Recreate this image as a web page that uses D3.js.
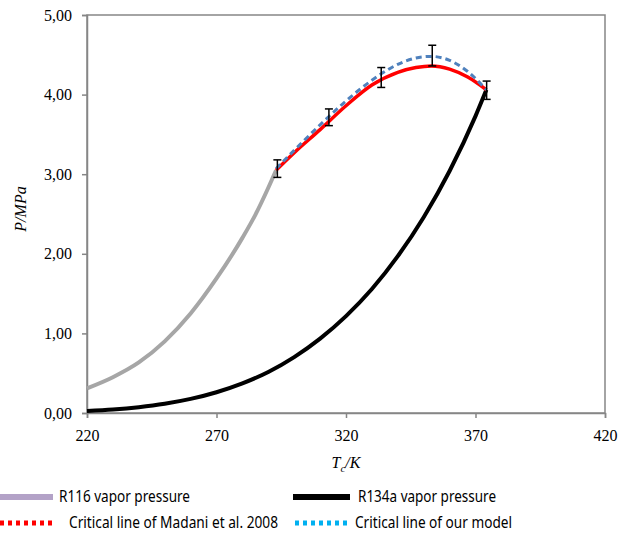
<!DOCTYPE html>
<html>
<head>
<meta charset="utf-8">
<script src="https://cdn.jsdelivr.net/npm/d3@7"></script>
<style>
  body { margin: 0; background: #fff; }
</style>
</head>
<body>
<div id="chart"></div>
<script>
// R116 vapor pressure
const r116T = [220, 230, 240, 250, 260, 270, 280, 285, 290, 293];
const r116P = [0.31, 0.45, 0.635, 0.90, 1.25, 1.69, 2.20, 2.49, 2.83, 3.05];

// R134a vapor pressure
const r134T = [220, 230, 240, 250, 260, 270, 280, 290, 300, 310, 320, 330, 340, 350, 360, 370, 374.2];
const r134P = [0.024, 0.043, 0.073, 0.116, 0.177, 0.261, 0.372, 0.515, 0.702, 0.934, 1.217, 1.557, 1.97, 2.46, 3.04, 3.73, 4.06];

// critical lines
const critT = [293, 300, 310, 320, 330, 340, 347, 353, 360, 367, 374.2];
const madaniP = [3.05, 3.27, 3.56, 3.86, 4.12, 4.28, 4.34, 4.36, 4.32, 4.22, 4.06];
const modelP = [3.07, 3.30, 3.62, 3.92, 4.18, 4.38, 4.46, 4.48, 4.43, 4.29, 4.06];

// experimental error bars
const errT = [293.5, 313.4, 333.6, 353.3, 374.3];
const errLo = [2.96, 3.61, 4.09, 4.36, 3.94];
const errHi = [3.18, 3.82, 4.34, 4.62, 4.17];

const xTicks = [220, 270, 320, 370, 420];
const yTicks = [0, 1, 2, 3, 4, 5];

const legendItems = [
  {label: "R116 vapor pressure", color: "#b3a2c7", dash: null},
  {label: "R134a vapor pressure", color: "#000000", dash: null},
  {label: "Critical line of Madani et al. 2008", color: "#ff0000", dash: "4,4"},
  {label: "Critical line of our model", color: "#00b0f0", dash: "4,4"}
];

const width = 620, height = 533;
const margin = {top: 15, right: 15, bottom: 120, left: 87};
const serif = "'Liberation Serif', 'DejaVu Serif', serif";

const svg = d3.select("#chart").append("svg")
  .attr("width", width)
  .attr("height", height);

const x = d3.scaleLinear().domain([220, 420]).range([margin.left, width - margin.right]);
const y = d3.scaleLinear().domain([0, 5]).range([height - margin.bottom, margin.top]);

const fmt = d => d3.format(".2f")(d).replace(".", ",");

// frame
svg.append("rect")
  .attr("x", x(220)).attr("y", y(5))
  .attr("width", x(420) - x(220)).attr("height", y(0) - y(5))
  .attr("fill", "none").attr("stroke", "#868686").attr("stroke-width", 1.5);

// axes
const xAxis = svg.append("g")
  .attr("transform", `translate(0,${y(0)})`)
  .call(d3.axisBottom(x).tickValues(xTicks).tickSize(5).tickPadding(12));
const yAxis = svg.append("g")
  .attr("transform", `translate(${x(220)},0)`)
  .call(d3.axisLeft(y).tickValues(yTicks).tickFormat(fmt).tickSize(5).tickPadding(10));
[xAxis, yAxis].forEach(g => {
  g.attr("font-family", null).attr("font-size", null);
  g.select(".domain").attr("stroke", "#868686").attr("stroke-width", 1.5);
  g.selectAll(".tick line").attr("stroke", "#868686").attr("stroke-width", 1.5);
  g.selectAll(".tick text")
    .attr("fill", "#000")
    .style("font-family", serif)
    .style("font-size", "16px");
});

const line = d3.line().curve(d3.curveMonotoneX).x(d => x(d[0])).y(d => y(d[1]));
const zip = (a, b) => a.map((v, i) => [v, b[i]]);

// vapor pressure curves
svg.append("path").datum(zip(r116T, r116P))
  .attr("d", line).attr("fill", "none")
  .attr("stroke", "#a6a6a6").attr("stroke-width", 4);
svg.append("path").datum(zip(r134T, r134P))
  .attr("d", line).attr("fill", "none")
  .attr("stroke", "#000").attr("stroke-width", 4);

// critical lines
svg.append("path").datum(zip(critT, madaniP))
  .attr("d", line).attr("fill", "none")
  .attr("stroke", "#ff0000").attr("stroke-width", 3.5);
svg.append("path").datum(zip(critT, modelP))
  .attr("d", line).attr("fill", "none")
  .attr("stroke", "#4f81bd").attr("stroke-width", 3)
  .attr("stroke-dasharray", "6,4");

// error bars
const eb = svg.append("g").attr("stroke", "#000").attr("stroke-width", 1.5);
errT.forEach((t, i) => {
  const cx = x(t);
  eb.append("line").attr("x1", cx).attr("x2", cx).attr("y1", y(errLo[i])).attr("y2", y(errHi[i]));
  eb.append("line").attr("x1", cx - 4).attr("x2", cx + 4).attr("y1", y(errLo[i])).attr("y2", y(errLo[i]));
  eb.append("line").attr("x1", cx - 4).attr("x2", cx + 4).attr("y1", y(errHi[i])).attr("y2", y(errHi[i]));
});

// axis titles
const title = svg.append("text")
  .attr("x", x(320)).attr("y", 468)
  .attr("text-anchor", "middle")
  .style("font-family", serif).style("font-size", "16px").style("font-style", "italic");
title.append("tspan").text("T");
title.append("tspan").attr("dy", 4).style("font-size", "11px").text("c");
title.append("tspan").attr("dy", -4).text("/K");

svg.append("text")
  .attr("transform", `translate(26,${209}) rotate(-90)`)
  .attr("text-anchor", "middle")
  .style("font-family", serif).style("font-size", "16px").style("font-style", "italic")
  .text("P/MPa");

// legend (Calibri-like: taller glyphs squeezed to the original widths)
const legPos = [
  {sx: 0, sw: 53, tx: 59, tw: 131, y: 497},
  {sx: 293, sw: 57, tx: 358, tw: 138, y: 497},
  {sx: 0, sw: 52, tx: 69, tw: 209, y: 523},
  {sx: 295, sw: 54, tx: 355, tw: 157, y: 523}
];
const leg = svg.append("g");
legendItems.forEach((d, i) => {
  const p = legPos[i];
  leg.append("line")
    .attr("x1", p.sx).attr("x2", p.sx + p.sw)
    .attr("y1", p.y).attr("y2", p.y)
    .attr("stroke", d.color)
    .attr("stroke-width", d.dash ? 5 : 6)
    .attr("stroke-dasharray", d.dash);
  leg.append("text")
    .attr("x", p.tx).attr("y", p.y)
    .attr("dy", "0.35em")
    .attr("textLength", p.tw)
    .attr("lengthAdjust", "spacingAndGlyphs")
    .style("font-family", "'Noto Sans', sans-serif").style("font-size", "15.5px")
    .text(d.label);
});
</script>
</body>
</html>
